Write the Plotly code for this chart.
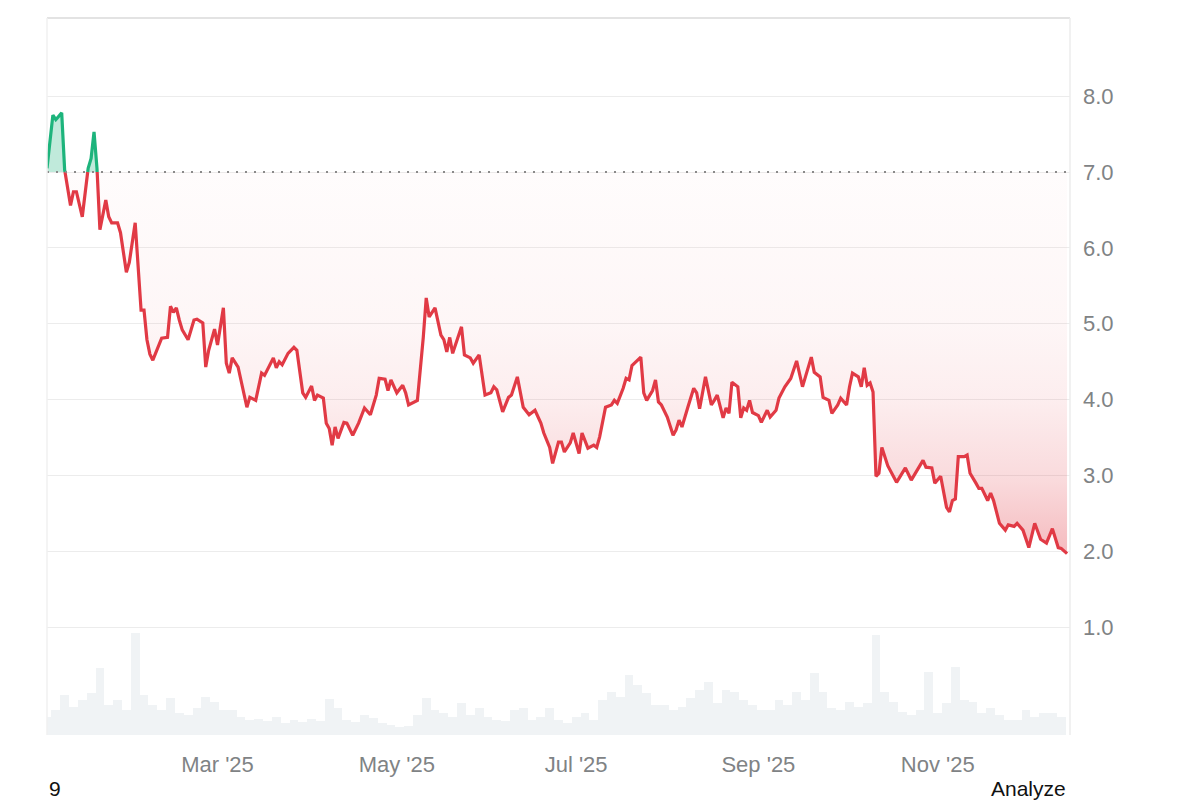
import plotly.graph_objects as go
import pandas as pd

START_DATE = "2025-01-02"
END_DATE = "2025-12-16"
BASELINE = 7.0

# price series: day offset from START_DATE and value
price_day = [0, 2, 3, 5, 6, 8, 9, 10, 12, 14, 15, 16, 17, 18, 20, 21, 22, 24, 25, 27,
             28, 30, 32, 33, 34, 35, 36, 38, 39, 41, 42, 43, 44, 45, 46, 48, 49, 50, 51, 53,
             54, 55, 57, 58, 60, 61, 62, 63, 65, 66, 68, 69, 71, 73, 74, 77, 78, 79, 80, 82,
             84, 85, 87, 88, 90, 91, 92, 94, 95, 96, 97, 98, 99, 101, 102, 104, 106, 108, 110, 112,
             113, 115, 116, 117, 119, 121, 122, 123, 124, 126, 128, 129, 130, 132, 134, 135, 136, 137, 138, 141,
             142, 144, 145, 147, 149, 151, 152, 153, 155, 157, 158, 160, 162, 164, 166, 168, 169, 171, 172, 174,
             175, 176, 178, 179, 181, 182, 184, 186, 187, 188, 190, 192, 193, 194, 196, 197, 198, 199, 202, 203,
             204, 206, 207, 208, 209, 211, 213, 214, 215, 216, 218, 220, 221, 222, 224, 226, 227, 228, 230, 231,
             232, 233, 235, 236, 237, 238, 239, 240, 242, 243, 245, 246, 248, 249, 251, 253, 255, 257, 258, 260,
             261, 263, 264, 266, 267, 269, 270, 272, 273, 274, 276, 277, 278, 279, 280, 281, 282, 283, 284, 286,
             289, 290, 292, 294, 296, 298, 299, 301, 302, 303, 304, 306, 307, 308, 309, 310, 312, 313, 314, 316,
             317, 318, 320, 321, 322, 324, 326, 327, 329, 330, 332, 334, 336, 338, 340, 342, 344, 345, 347]
price_val = [7.05, 7.75, 7.69, 7.78, 7.03, 6.56, 6.74, 6.74, 6.41, 7.05, 7.18, 7.53, 7.05, 6.24, 6.63, 6.41, 6.33, 6.33, 6.20, 5.68,
             5.81, 6.33, 5.18, 5.18, 4.79, 4.60, 4.52, 4.72, 4.81, 4.82, 5.23, 5.15, 5.21, 5.05, 4.92, 4.79, 4.92, 5.05, 5.06, 5.01,
             4.43, 4.65, 4.93, 4.72, 5.21, 4.48, 4.35, 4.55, 4.43, 4.26, 3.90, 4.03, 3.99, 4.35, 4.32, 4.55, 4.42, 4.50, 4.46, 4.61,
             4.69, 4.65, 4.09, 4.03, 4.18, 3.99, 4.06, 4.02, 3.69, 3.62, 3.40, 3.64, 3.49, 3.70, 3.69, 3.53, 3.69, 3.89, 3.80, 4.06,
             4.28, 4.27, 4.12, 4.26, 4.09, 4.19, 4.09, 3.93, 3.95, 3.99, 4.82, 5.34, 5.09, 5.21, 4.85, 4.79, 4.63, 4.82, 4.61, 4.96,
             4.59, 4.55, 4.48, 4.59, 4.06, 4.09, 4.17, 4.13, 3.84, 4.03, 4.06, 4.30, 3.90, 3.80, 3.86, 3.69, 3.56, 3.37, 3.16, 3.44,
             3.44, 3.31, 3.43, 3.56, 3.29, 3.56, 3.36, 3.40, 3.37, 3.51, 3.90, 3.93, 3.99, 3.95, 4.15, 4.28, 4.26, 4.45, 4.56, 4.09,
             3.99, 4.12, 4.26, 3.97, 3.93, 3.77, 3.53, 3.60, 3.73, 3.64, 3.90, 4.15, 4.09, 3.88, 4.30, 3.93, 3.99, 4.06, 3.76, 3.89,
             3.82, 4.23, 4.17, 3.76, 3.89, 3.86, 3.99, 3.83, 3.79, 3.70, 3.86, 3.77, 3.86, 4.02, 4.17, 4.28, 4.51, 4.17, 4.30, 4.56,
             4.36, 4.30, 4.03, 3.99, 3.82, 3.93, 4.02, 3.93, 4.17, 4.35, 4.30, 4.17, 4.42, 4.19, 4.22, 4.10, 2.99, 3.03, 3.37, 3.13,
             2.91, 2.98, 3.10, 2.94, 3.07, 3.20, 3.11, 3.10, 2.90, 2.94, 2.99, 2.58, 2.52, 2.67, 2.69, 3.25, 3.25, 3.27, 3.03, 2.90,
             2.83, 2.83, 2.67, 2.77, 2.67, 2.37, 2.28, 2.35, 2.33, 2.37, 2.28, 2.05, 2.37, 2.16, 2.11, 2.30, 2.05, 2.04, 1.97]

# volume series (every 3 days, arbitrary units)
volume_day = list(range(0, 348, 3))
volume_val = [18, 25, 40, 28, 35, 42, 67, 30, 35, 25, 102, 40, 30, 25, 37, 22, 20, 27, 38, 33,
              25, 25, 18, 15, 16, 14, 18, 12, 15, 13, 16, 14, 36, 27, 15, 13, 20, 17, 12, 10,
              8, 9, 20, 37, 25, 22, 18, 32, 20, 27, 18, 15, 14, 25, 27, 15, 18, 27, 15, 12,
              18, 22, 15, 35, 43, 38, 60, 50, 42, 30, 30, 25, 28, 37, 45, 53, 32, 45, 43, 35,
              30, 25, 25, 35, 30, 43, 35, 62, 43, 27, 25, 33, 28, 32, 100, 43, 33, 23, 20, 25,
              63, 22, 32, 68, 35, 33, 22, 27, 20, 15, 15, 25, 18, 22, 22, 18]

y_ticks = [1, 2, 3, 4, 5, 6, 7, 8]

RED = "#e13a45"
GREEN = "#1db47c"

t0 = pd.Timestamp(START_DATE)
p_t = [t0 + pd.Timedelta(days=d) for d in price_day]
v_t = [t0 + pd.Timedelta(days=d) for d in volume_day]

# insert baseline crossings so colours split exactly at the baseline
xs, ys = [], []
for i in range(len(p_t)):
    if i > 0:
        v1, v2 = price_val[i - 1], price_val[i]
        if (v1 - BASELINE) * (v2 - BASELINE) < 0:
            f = (BASELINE - v1) / (v2 - v1)
            xs.append(p_t[i - 1] + (p_t[i] - p_t[i - 1]) * f)
            ys.append(BASELINE)
    xs.append(p_t[i])
    ys.append(price_val[i])

red_line = [y if y <= BASELINE else None for y in ys]
green_line = [y if y >= BASELINE else None for y in ys]
red_fill = [min(y, BASELINE) for y in ys]
green_fill = [max(y, BASELINE) for y in ys]
base = [BASELINE] * len(ys)

fig = go.Figure()

fig.add_trace(go.Bar(x=v_t, y=volume_val, yaxis="y2", width=3 * 86400000,
                     marker=dict(color="#f0f3f5", line=dict(width=0)), hoverinfo="skip"))

fig.add_trace(go.Scatter(x=xs, y=base, mode="lines", line=dict(width=0), hoverinfo="skip"))
fig.add_trace(go.Scatter(x=xs, y=red_fill, mode="lines", line=dict(width=0), fill="tonexty",
                         fillgradient=dict(type="vertical",
                                           colorscale=[[0, "rgba(226,59,70,0.36)"],
                                                       [0.2, "rgba(226,59,70,0.19)"],
                                                       [0.41, "rgba(226,59,70,0.09)"],
                                                       [0.61, "rgba(226,59,70,0.045)"],
                                                       [1, "rgba(226,59,70,0.015)"]],
                                           start=1.9, stop=7.0),
                         hoverinfo="skip"))
fig.add_trace(go.Scatter(x=xs, y=base, mode="lines", line=dict(width=0), hoverinfo="skip"))
fig.add_trace(go.Scatter(x=xs, y=green_fill, mode="lines", line=dict(width=0), fill="tonexty",
                         fillcolor="rgba(29,180,124,0.28)", hoverinfo="skip"))

fig.add_trace(go.Scatter(x=xs, y=red_line, mode="lines", connectgaps=False,
                         line=dict(color=RED, width=3.2), hoverinfo="skip"))
fig.add_trace(go.Scatter(x=xs, y=green_line, mode="lines", connectgaps=False,
                         line=dict(color=GREEN, width=3.2), hoverinfo="skip"))

font_family = "Liberation Sans, Arial, sans-serif"

fig.update_layout(
    width=1200, height=800,
    margin=dict(l=47, r=130, t=18, b=65, autoexpand=False),
    paper_bgcolor="white", plot_bgcolor="white",
    showlegend=False, hovermode=False,
    bargap=0,
    xaxis=dict(range=[START_DATE, END_DATE], type="date", dtick="M2", tick0="2025-01-01",
               tickformat="%b '%y", showgrid=False, zeroline=False, showline=False,
               ticks="", ticklabelstandoff=14,
               tickfont=dict(family=font_family, size=22, color="#7f8385")),
    yaxis=dict(range=[-0.42, 9.03], side="right", tickvals=y_ticks, tickformat=".1f",
               showgrid=True, gridcolor="#ececec", gridwidth=1, zeroline=False,
               showline=False, ticks="", ticklabelstandoff=12,
               tickfont=dict(family=font_family, size=22, color="#7f8385")),
    yaxis2=dict(overlaying="y", range=[0, 717], visible=False),
    shapes=[
        dict(type="line", xref="paper", yref="y", x0=0, x1=1, y0=BASELINE, y1=BASELINE,
             line=dict(color="#8a8a8a", width=2, dash="2px,7px"), layer="above"),
        dict(type="line", xref="paper", yref="paper", x0=0, x1=1, y0=1, y1=1,
             line=dict(color="#e3e3e3", width=2)),
        dict(type="line", xref="paper", yref="paper", x0=0, x1=0, y0=0, y1=1,
             line=dict(color="#f1f1f1", width=1.5)),
        dict(type="line", xref="paper", yref="paper", x0=1, x1=1, y0=0, y1=1,
             line=dict(color="#ececec", width=1.5)),
    ],
    annotations=[
        dict(text="9", xref="paper", yref="paper", x=0.0, y=-0.075, xanchor="left", yanchor="middle",
             showarrow=False, font=dict(family=font_family, size=21, color="#111111")),
        dict(text="Analyze", xref="paper", yref="paper", x=0.998, y=-0.075, xanchor="right", yanchor="middle",
             showarrow=False, font=dict(family=font_family, size=21, color="#111111")),
    ],
)

fig.write_html("out.html", config={"displayModeBar": False},
               post_script="document.body.style.margin='0';document.body.style.padding='0';")
